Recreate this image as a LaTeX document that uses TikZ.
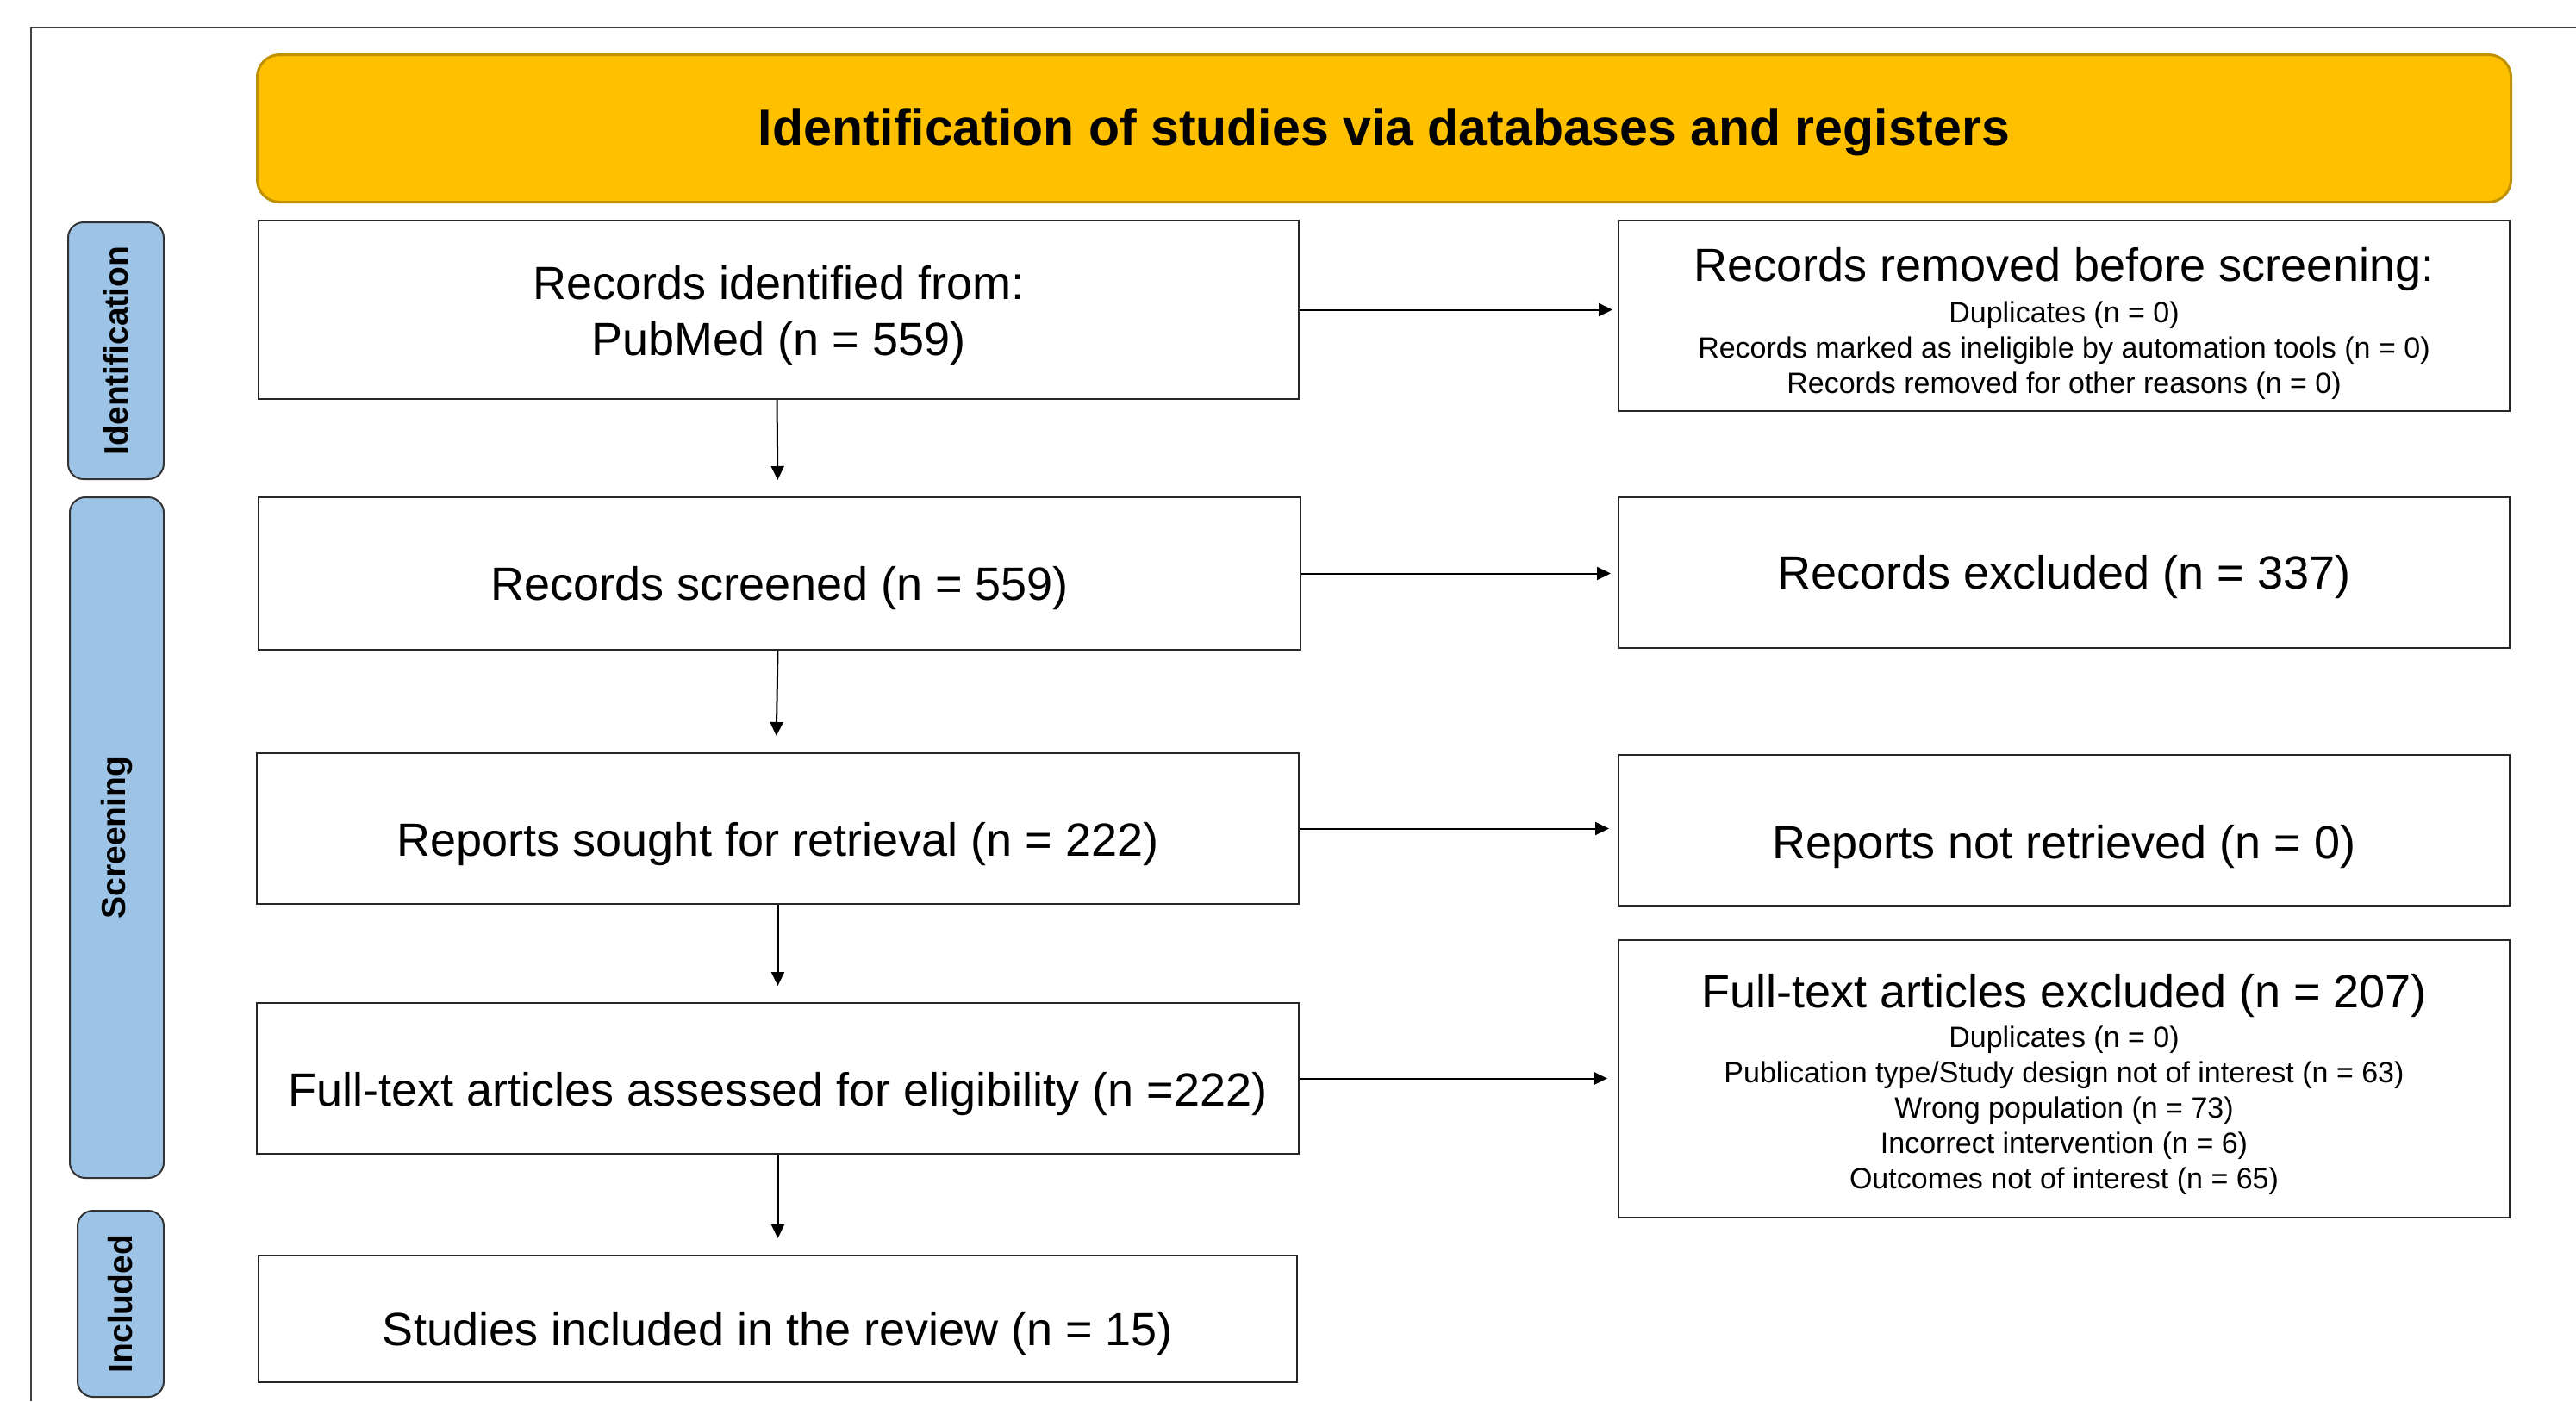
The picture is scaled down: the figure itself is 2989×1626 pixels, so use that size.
\documentclass[tikz,border=0pt]{standalone}
\usepackage{fontspec}
\setmainfont{Liberation Sans}
\usetikzlibrary{arrows.meta}

\definecolor{headfill}{HTML}{FFC000}
\definecolor{headline}{HTML}{BF9000}
\definecolor{phasefill}{HTML}{9DC3E6}
\definecolor{frameline}{HTML}{404040}

% lower a single line of text inside its node, keeping the node size
\newcommand{\dropped}[2]{\raisebox{-#1}[\height][\depth]{#2}}
% invisible strut that pushes a multi-line block down
\newcommand{\topgap}[1]{\rule{0pt}{#1}}

\tikzset{
  stagebox/.style={draw=black!85, line width=2pt, fill=white, inner sep=0pt,
    anchor=north west, align=center,
    font=\fontsize{54}{65}\selectfont},
  notebox/.style={stagebox, font=\fontsize{34}{41}\selectfont},
  phase/.style={draw=black!80, line width=2pt, fill=phasefill,
    rounded corners=18pt, inner sep=0pt, anchor=north west},
  phaselabel/.style={rotate=90, font=\fontsize{39}{47}\selectfont\bfseries},
  flow/.style={draw=black, line width=2pt,
    -{Triangle[length=16pt,width=15pt]}}
}

\begin{document}
\begin{tikzpicture}[x=1pt, y=-1pt]
\useasboundingbox (0,0) rectangle (2989,1626);

% outer frame (top and left edges)
\draw[frameline, line width=2pt] (36,1626) -- (36,32) -- (2989,32);

% title banner
\node[draw=headline, line width=3pt, fill=headfill, rounded corners=26pt,
  anchor=north west, inner sep=0pt, minimum width=2615pt, minimum height=171pt,
  font=\fontsize{59}{70}\selectfont\bfseries] (head) at (297,62)
  {\dropped{4pt}{Identification of studies via databases and registers}};

% phase labels
\node[phase, minimum width=111pt, minimum height=298pt] (pid) at (78,257) {};
\node[phaselabel] (pidt) at (pid.center) {Identification};
\node[phase, minimum width=109pt, minimum height=790pt] (pscr) at (80,576) {};
\node[phaselabel] (pscrt) at (pscr.center) {Screening};
\node[phase, minimum width=100pt, minimum height=216pt] (pinc) at (89,1404) {};
\node[phaselabel] (pinct) at (pinc.center) {Included};

% main column
\node[stagebox, minimum width=1207pt, minimum height=207pt] (b1) at (299,255)
  {\topgap{52pt}Records identified from:\\PubMed (n = 559)};
\node[stagebox, minimum width=1209pt, minimum height=177pt] (b3) at (299,576)
  {\dropped{17pt}{Records screened (n = 559)}};
\node[stagebox, minimum width=1209pt, minimum height=175pt] (b5) at (297,873)
  {\dropped{18pt}{Reports sought for retrieval (n = 222)}};
\node[stagebox, minimum width=1209pt, minimum height=175pt] (b7) at (297,1163)
  {\dropped{18pt}{Full-text articles assessed for eligibility (n =222)}};
\node[stagebox, minimum width=1205pt, minimum height=147pt] (b9) at (299,1456)
  {\dropped{17pt}{Studies included in the review (n = 15)}};

% side column
\node[notebox, minimum width=1034pt, minimum height=221pt] (b2) at (1877,255)
  {{\fontsize{54}{65}\selectfont\topgap{57pt}Records removed before screening:}\\[7pt]
   Duplicates (n = 0)\\
   Records marked as ineligible by automation tools (n = 0)\\
   Records removed for other reasons (n = 0)};
\node[stagebox, minimum width=1034pt, minimum height=175pt] (b4) at (1877,576)
  {\dropped{5pt}{Records excluded (n = 337)}};
\node[stagebox, minimum width=1034pt, minimum height=175pt] (b6) at (1877,875)
  {\dropped{19pt}{Reports not retrieved (n = 0)}};
\node[notebox, minimum width=1034pt, minimum height=322pt] (b8) at (1877,1090)
  {{\fontsize{54}{65}\selectfont\topgap{52pt}Full-text articles excluded (n = 207)}\\[5pt]
   Duplicates (n = 0)\\
   Publication type/Study design not of interest (n = 63)\\
   Wrong population (n = 73)\\
   Incorrect intervention (n = 6)\\
   Outcomes not of interest (n = 65)};

% downward flow
\draw[flow, shorten >=19pt] ([xshift=-2pt]b1.south) -- ([xshift=-2pt]b3.north);
\draw[flow, shorten >=19pt] ([xshift=-2pt]b3.south) -- ([xshift=-2pt]b5.north);
\draw[flow, shorten >=19pt] (b5.south) -- (b7.north);
\draw[flow, shorten >=19pt] (b7.south) -- (b9.north);

% exclusions to the side
\draw[flow, shorten >=6pt] (b1.east) -- (b2.west |- b1.east);
\draw[flow, shorten >=8pt] (b3.east) -- (b4.west |- b3.east);
\draw[flow, shorten >=10pt] (b5.east) -- (b6.west |- b5.east);
\draw[flow, shorten >=12pt] (b7.east) -- (b8.west |- b7.east);
\end{tikzpicture}
\end{document}
